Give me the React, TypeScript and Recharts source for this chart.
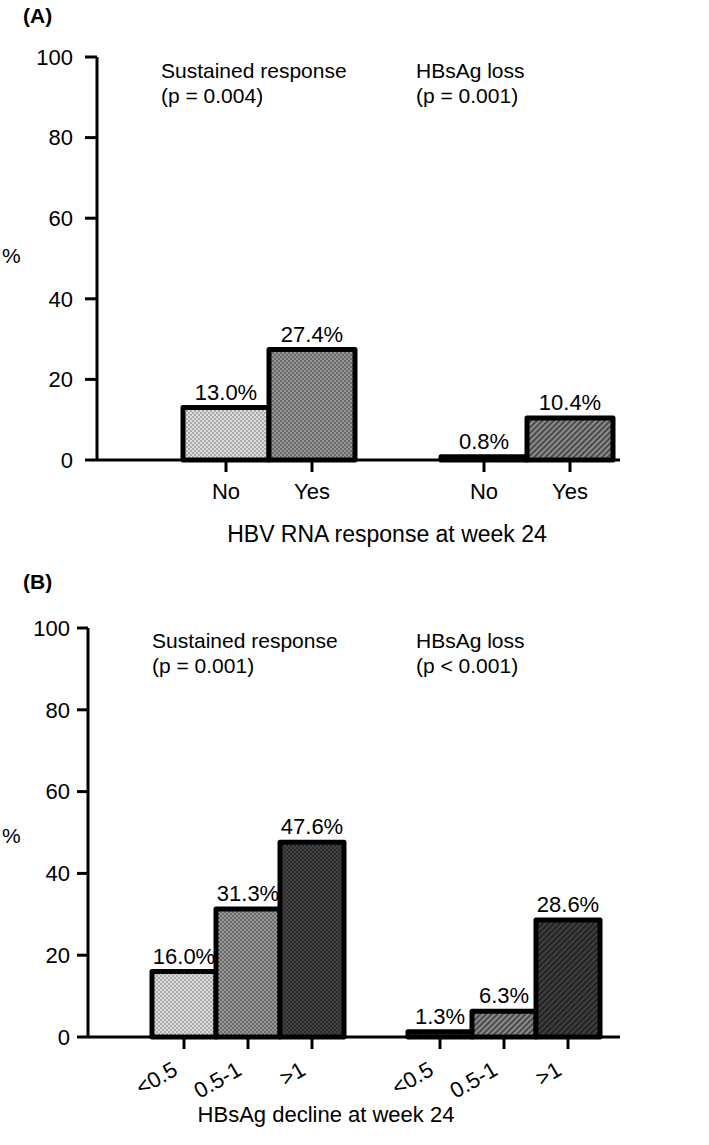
import React from 'react';
import { BarChart, Bar, XAxis, YAxis, Cell, LabelList } from 'recharts';

const yTicks = [0, 20, 40, 60, 80, 100];

// (A) HBV RNA response at week 24
const rnaGroups = ['No', 'Yes'];
const sustainedByRna = [13.0, 27.4];
const lossByRna = [0.8, 10.4];

// (B) HBsAg decline at week 24
const declineGroups = ['<0.5', '0.5-1', '>1'];
const sustainedByDecline = [16.0, 31.3, 47.6];
const lossByDecline = [1.3, 6.3, 28.6];

const FONT = '"Liberation Sans", Arial, Helvetica, sans-serif';

type Row = { id: string; tick: string; v: number | null };

// empty slot, sustained response group, empty slot, HBsAg loss group
const buildRows = (ticks: string[], a: number[], b: number[]): Row[] => [
  { id: 'gap0', tick: '', v: null },
  ...ticks.map((t, i) => ({ id: `s${i}`, tick: t, v: a[i] })),
  { id: 'gap1', tick: '', v: null },
  ...ticks.map((t, i) => ({ id: `l${i}`, tick: t, v: b[i] })),
];

const rowsA = buildRows(rnaGroups, sustainedByRna, lossByRna);
const rowsB = buildRows(declineGroups, sustainedByDecline, lossByDecline);

const fillsA = ['none', 'dotsLight', 'dotsMid', 'none', 'hatchMid', 'hatchMid'];
const fillsB = ['none', 'dotsLight', 'dotsMid', 'dotsDark', 'none', 'hatchMid', 'hatchMid', 'hatchDark'];

const fmt = (v: any) => (v == null ? '' : `${Number(v).toFixed(1)}%`);

const Patterns = ({ p }: { p: string }) => (
  <defs>
    <pattern id={`${p}dotsLight`} width="4" height="4" patternUnits="userSpaceOnUse">
      <rect width="4" height="4" fill="#dedede" />
      <rect width="2" height="2" fill="#a9a9a9" />
      <rect x="2" y="2" width="2" height="2" fill="#a9a9a9" />
    </pattern>
    <pattern id={`${p}dotsMid`} width="4" height="4" patternUnits="userSpaceOnUse">
      <rect width="4" height="4" fill="#979797" />
      <rect width="2" height="2" fill="#6a6a6a" />
      <rect x="2" y="2" width="2" height="2" fill="#6a6a6a" />
    </pattern>
    <pattern id={`${p}dotsDark`} width="4" height="4" patternUnits="userSpaceOnUse">
      <rect width="4" height="4" fill="#454545" />
      <rect width="2" height="2" fill="#2a2a2a" />
      <rect x="2" y="2" width="2" height="2" fill="#2a2a2a" />
    </pattern>
    <pattern id={`${p}hatchMid`} width="4" height="4" patternUnits="userSpaceOnUse" patternTransform="rotate(45)">
      <rect width="4" height="4" fill="#8c8c8c" />
      <rect width="2" height="4" fill="#4a4a4a" />
    </pattern>
    <pattern id={`${p}hatchDark`} width="4" height="4" patternUnits="userSpaceOnUse" patternTransform="rotate(45)">
      <rect width="4" height="4" fill="#404040" />
      <rect width="2" height="4" fill="#222222" />
    </pattern>
  </defs>
);

const GroupTick = (props: any) => {
  const { x, payload, rows, axisY, angle } = props;
  const row = rows.find((r: Row) => r.id === payload.value);
  if (!row || !row.tick) return <g />;
  const tx = angle ? x - 5 : x;
  const ty = angle ? axisY + 37 : axisY + 39;
  return (
    <g>
      <line x1={x} x2={x} y1={axisY} y2={axisY + 12} stroke="#000" strokeWidth={3} />
      <text
        x={tx}
        y={ty}
        textAnchor={angle ? 'end' : 'middle'}
        transform={angle ? `rotate(${angle} ${tx} ${ty})` : undefined}
        fontSize={22}
        fill="#000"
      >
        {row.tick}
      </text>
    </g>
  );
};

const axisStyle = { stroke: '#000', strokeWidth: 3 };

const Panel = ({ rows, fills, p, height, plotH, yWidth, tickSize, tickMargin, padRight, angle }: any) => {
  const top = 57;
  const xh = height - top - plotH;
  const axisY = top + plotH;
  return (
    <BarChart
      width={709}
      height={height}
      data={rows}
      margin={{ top, right: 89, bottom: 0, left: 0 }}
      barCategoryGap={0}
    >
      <Patterns p={p} />
      <XAxis
        dataKey="id"
        height={xh}
        interval={0}
        padding={{ left: 0, right: padRight }}
        axisLine={axisStyle}
        tickLine={false}
        tick={(t: any) => <GroupTick {...t} rows={rows} axisY={axisY} angle={angle} />}
      />
      <YAxis
        type="number"
        domain={[0, 100]}
        ticks={yTicks}
        interval={0}
        width={yWidth}
        tickSize={tickSize}
        tickMargin={tickMargin}
        axisLine={axisStyle}
        tickLine={axisStyle}
        tick={{ fill: '#000', fontSize: 22 }}
      />
      <Bar dataKey="v" isAnimationActive={false} stroke="#000" strokeWidth={5} strokeLinejoin="round">
        {rows.map((r: Row, i: number) => (
          <Cell key={r.id} fill={fills[i] === 'none' ? 'none' : `url(#${p}${fills[i]})`} />
        ))}
        <LabelList dataKey="v" position="top" offset={8} formatter={fmt} fontSize={22} fill="#000" />
      </Bar>
    </BarChart>
  );
};

export default function App() {
  return (
    <div
      style={{
        position: 'absolute',
        left: 0,
        top: 0,
        width: 709,
        height: 1145,
        background: '#fff',
        fontFamily: FONT,
      }}
    >
      <div style={{ position: 'absolute', left: 0, top: 0 }}>
        <Panel rows={rowsA} fills={fillsA} p="a" height={570} plotH={403} yWidth={97} tickSize={12} tickMargin={12} padRight={7} angle={0} />
      </div>
      <div style={{ position: 'absolute', left: 0, top: 571 }}>
        <Panel rows={rowsB} fills={fillsB} p="b" height={574} plotH={409} yWidth={88} tickSize={11} tickMargin={7} padRight={20} angle={-30} />
      </div>
      <svg
        width={709}
        height={1145}
        style={{ position: 'absolute', left: 0, top: 0, pointerEvents: 'none' }}
        fontFamily={FONT}
        fill="#000"
      >
        <text x={23} y={23} fontSize={21} fontWeight="bold">(A)</text>
        <text x={2} y={263} fontSize={21}>%</text>
        <text x={161} y={78} fontSize={21}>Sustained response</text>
        <text x={161} y={103} fontSize={21}>(p = 0.004)</text>
        <text x={416} y={78} fontSize={21}>HBsAg loss</text>
        <text x={416} y={103} fontSize={21}>(p = 0.001)</text>
        <text x={387} y={542} fontSize={23} textAnchor="middle">HBV RNA response at week 24</text>

        <text x={23} y={589} fontSize={21} fontWeight="bold">(B)</text>
        <text x={2} y={843} fontSize={21}>%</text>
        <text x={152} y={648} fontSize={21}>Sustained response</text>
        <text x={152} y={673} fontSize={21}>(p = 0.001)</text>
        <text x={416} y={648} fontSize={21}>HBsAg loss</text>
        <text x={416} y={673} fontSize={21}>(p &lt; 0.001)</text>
        <text x={326} y={1122} fontSize={22} textAnchor="middle">HBsAg decline at week 24</text>
      </svg>
    </div>
  );
}
